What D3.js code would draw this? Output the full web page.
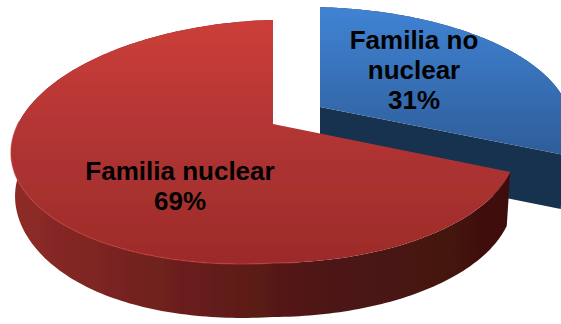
<!DOCTYPE html>
<html>
<head>
<meta charset="utf-8">
<script src="https://cdn.jsdelivr.net/npm/d3@7"></script>
<style>
  html, body { margin: 0; padding: 0; background: #fff; overflow: hidden; }
  svg { display: block; }
  text { font-family: "Liberation Sans", Arial, sans-serif; font-weight: bold; fill: #000; }
</style>
</head>
<body>
<div id="chart"></div>
<script>
const categories = ["Familia no nuclear", "Familia nuclear"];
const values = [31, 69];
const labelLines = [["Familia no", "nuclear", "31%"], ["Familia nuclear", "69%"]];

const width = 561, height = 324;
const depth = 54;
const apex = { x: 273, y: 124 };
// exploded slice moves up and to the right
const explode = [{ x: 47, y: -17 }, { x: 0, y: 0 }];
const stretch = [1.03, 1];
const backSquash = [0.96, 1];
const labelPos = [{ x: 414, y: 49 }, { x: 180, y: 180 }];
const lineStep = 30;

const svg = d3.select("#chart").append("svg")
    .attr("width", width).attr("height", height);
const defs = svg.append("defs");

function linearGrad(id, vertical, from, to, stops) {
    const g = defs.append("linearGradient").attr("id", id)
        .attr("gradientUnits", "userSpaceOnUse")
        .attr("x1", vertical ? 0 : from).attr("x2", vertical ? 0 : to)
        .attr("y1", vertical ? from : 0).attr("y2", vertical ? to : 0);
    stops.forEach(s => g.append("stop").attr("offset", s[0]).attr("stop-color", s[1]));
}
linearGrad("redTop", true, 20, 265, [[0, "#cc3e39"], [0.5, "#b03433"], [1, "#9c2b29"]]);
linearGrad("redWall", false, 12, 511, [[0, "#8f2b28"], [0.3, "#6f201d"], [0.6, "#501715"], [1, "#3e100e"]]);
linearGrad("blueTop", true, 7, 155, [[0, "#4083d4"], [1, "#2e5d99"]]);

defs.append("filter").attr("id", "soft")
    .append("feGaussianBlur").attr("stdDeviation", 0.6);

// tilted pie with some perspective: near edge is bigger, right side recedes,
// left half sags a little
function project(angle) {
    const u = Math.sin(angle), v = -Math.cos(angle);
    const w = 1 - 0.144 * v + 0.035 * u;
    const sag = u < 0 ? -10 : 3.4;
    return { x: 250 * u / w, y: (sag * u + 119 * v) / w };
}

const pie = d3.pie().sort(null)(values);
const line = d3.line().x(d => d.x).y(d => d.y);

const g = svg.append("g").attr("filter", "url(#soft)");

pie.forEach((slice, i) => {
    const off = explode[i];
    const origin = { x: apex.x + off.x, y: apex.y + off.y };
    const angles = d3.range(0, 241).map(k => slice.startAngle + (slice.endAngle - slice.startAngle) * k / 240);
    const rim = angles.map(a => {
        const p = project(a);
        return {
            x: origin.x + p.x * stretch[i],
            y: origin.y + (p.y < 0 ? p.y * backSquash[i] : p.y)
        };
    });
    // the base of the wall sits slightly further in and is shallower at the far left
    const lowered = rim.map((p, k) => {
        const u = Math.sin(angles[k]);
        const d = depth * (1 - 0.2 * Math.pow(Math.max(0, -u), 4));
        return { x: origin.x + (p.x - origin.x) * 0.985, y: p.y + d };
    });

    // outer wall
    g.append("path")
        .attr("d", line(rim.concat(lowered.slice().reverse())) + "Z")
        .attr("fill", i === 0 ? "#17304f" : "url(#redWall)");

    // cut face of the blue slice, seen through the gap
    if (i === 0) {
        const c = rim[rim.length - 1];
        const cLow = lowered[lowered.length - 1];
        g.append("path")
            .attr("d", line([origin, c, cLow, { x: origin.x, y: origin.y + depth }]) + "Z")
            .attr("fill", "#17304f");
    }

    // top surface
    g.append("path")
        .attr("d", line([origin].concat(rim)) + "Z")
        .attr("fill", i === 0 ? "url(#blueTop)" : "url(#redTop)");

    // faint highlight on the front rim of the red slice
    if (i === 1) {
        const front = rim.filter((p, k) => k > 60 && k < 160);
        g.append("path")
            .attr("d", line(front))
            .attr("fill", "none")
            .attr("stroke", "#bb3b36")
            .attr("stroke-opacity", 0.6)
            .attr("stroke-width", 1.5);
    }
});

labelLines.forEach((lines, i) => {
    lines.forEach((t, j) => {
        svg.append("text")
            .attr("x", labelPos[i].x)
            .attr("y", labelPos[i].y + j * lineStep)
            .attr("text-anchor", "middle")
            .style("font-size", "26px")
            .text(t);
    });
});
</script>
</body>
</html>
